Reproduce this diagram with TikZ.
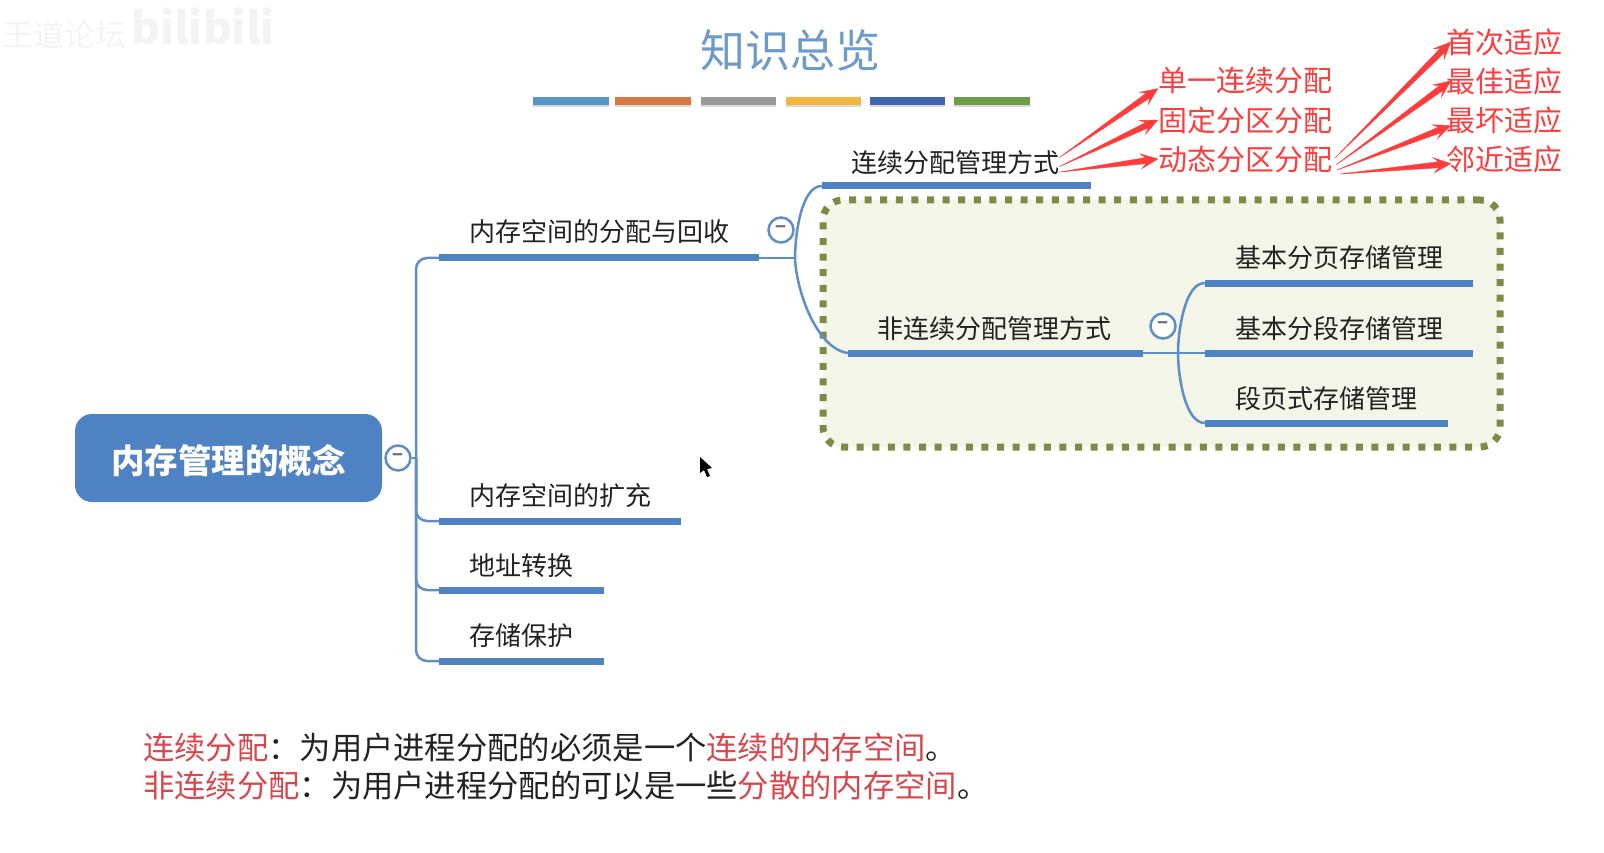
\documentclass[tikz,border=0pt]{standalone}
\usepackage{fontspec}
\usepackage{xcolor}
\setmainfont{Noto Sans CJK SC}
\usetikzlibrary{calc,shadows}

\definecolor{mapblue}{HTML}{4F82C3}
\definecolor{linkblue}{HTML}{5F8EC4}
\definecolor{titleblue}{HTML}{6C9ACB}
\definecolor{arrowred}{HTML}{FF3B3B}
\definecolor{noteRed}{HTML}{D8474B}
\definecolor{boxolive}{HTML}{7F8A46}
\definecolor{boxfill}{HTML}{F2F5E8}
\definecolor{inkblack}{HTML}{222222}
\definecolor{markgray}{HTML}{F3F3F3}

\tikzset{
  topicbar/.style={rectangle, fill=mapblue, minimum height=7pt, inner sep=0pt},
  topic/.style={anchor=west, inner sep=0pt, text=inkblack, font=\fontsize{26}{26}\selectfont},
  redtext/.style={inner sep=0pt, text=arrowred, font=\fontsize{29}{29}\selectfont},
  notetext/.style={anchor=west, inner sep=0pt, text=inkblack, font=\fontsize{31.3}{32}\selectfont},
  branch/.style={draw=linkblue, line width=2.5pt},
  folddot/.style={circle, draw=linkblue, line width=2.5pt, fill=white, inner sep=0pt,
    minimum size=25pt, text=black!55, font=\fontsize{18}{18}\bfseries\selectfont},
  % tapered arrow, thin at the tail
  redarrow/.style={fill=arrowred, draw=arrowred, line width=.4pt, to path={
    -- ($($(\tikztotarget)!12pt!(\tikztostart)$)!3pt!90:(\tikztotarget)$)
    -- ($($(\tikztotarget)!17pt!(\tikztostart)$)!7.5pt!90:(\tikztotarget)$)
    -- (\tikztotarget)
    -- ($($(\tikztotarget)!17pt!(\tikztostart)$)!7.5pt!-90:(\tikztotarget)$)
    -- ($($(\tikztotarget)!12pt!(\tikztostart)$)!3pt!-90:(\tikztotarget)$)
    -- cycle}}
}

\begin{document}
\begin{tikzpicture}[x=1pt, y=-1pt]
\useasboundingbox (0,0) rectangle (1604,853);

% ---- Heading ----
\node[inner sep=0pt, text=markgray, font=\fontsize{31}{31}\selectfont] (markA) at (64,35) {王道论坛};
\node[inner sep=0pt, text=markgray, font=\fontsize{44}{44}\bfseries\selectfont] (markB) at (203,27) {bilibili};
\node[inner sep=0pt, text=titleblue, font=\fontsize{45}{45}\selectfont] (title) at (790,50) {知识总览};

\foreach \name/\xc/\barw/\col in {b1/571/76/5797C8, b2/653/76/D97743, b3/738.5/75/9A9A9A,
                                  b4/823.5/75/F2B63E, b5/907.5/75/3F66AE, b6/992/76/6F9C46} {
  \definecolor{barcol}{HTML}{\col}
  \node[rectangle, fill=barcol, inner sep=0pt, minimum width=\barw pt, minimum height=8pt,
        drop shadow={opacity=.3, shadow xshift=0pt, shadow yshift=-2pt}] (\name) at (\xc,101) {};
}

% ---- Dotted group ----
\node[rectangle, rounded corners=20pt, draw=boxolive, fill=boxfill, line width=7pt,
      dash pattern=on 7pt off 8.6pt, minimum width=677pt, minimum height=247pt,
      inner sep=0pt] (group) at (1161.5,323.5) {};

% ---- Root ----
\node[rectangle, rounded corners=17pt, fill=mapblue, minimum width=307pt, minimum height=88pt,
      inner sep=0pt, text=white, text height=35pt, text depth=4pt,
      font=\fontsize{33.5}{34}\bfseries\selectfont] (root) at (228.5,458) {内存管理的概念};

% ---- Bars ----
\node[topicbar, minimum width=320pt] (allocbar)   at (599,258)    {};
\node[topicbar, minimum width=242pt] (extendbar)  at (560,521)    {};
\node[topicbar, minimum width=165pt] (addressbar) at (521.5,590)  {};
\node[topicbar, minimum width=165pt] (protectbar) at (521.5,661)  {};
\node[topicbar, minimum width=269pt] (contbar)    at (956.5,186)  {};
\node[topicbar, minimum width=295pt] (noncontbar) at (995.5,353)  {};
\node[topicbar, minimum width=268pt] (pagebar)    at (1339,283)   {};
\node[topicbar, minimum width=268pt] (segbar)     at (1339,353)   {};
\node[topicbar, minimum width=243pt] (mixbar)     at (1326.5,423) {};

% ---- Labels ----
\node[topic] (alloc)   at (469,232)  {内存空间的分配与回收};
\node[topic] (extend)  at (469,496)  {内存空间的扩充};
\node[topic] (address) at (469,566)  {地址转换};
\node[topic] (protect) at (469,636)  {存储保护};
\node[topic] (cont)    at (851,163)  {连续分配管理方式};
\node[topic] (noncont) at (877,329)  {非连续分配管理方式};
\node[topic] (page)    at (1235,258) {基本分页存储管理};
\node[topic] (seg)     at (1235,329) {基本分段存储管理};
\node[topic] (mix)     at (1235,399) {段页式存储管理};

% ---- Fold marks ----
\node[folddot] (rootdot)    at (398,458)  {−};
\node[folddot] (allocdot)   at (781,230)  {−};
\node[folddot] (noncontdot) at (1163,326) {−};

\coordinate (trunk) at (416,458);
\coordinate (forkA) at (795,258);
\coordinate (forkB) at (1178,353);

% ---- Branches ----
\draw[branch] (rootdot) -- (trunk);
\draw[branch, rounded corners=11pt] (trunk) |- (allocbar.west);
\draw[branch, rounded corners=11pt] (trunk) |- (extendbar.west);
\draw[branch, rounded corners=11pt] (trunk) |- (addressbar.west);
\draw[branch, rounded corners=11pt] (trunk) |- (protectbar.west);
\draw[branch] (allocbar.east) -- (forkA);
\draw[branch] (forkA) to[out=90, in=180, looseness=.7] (contbar.west);
\draw[branch] (forkA) to[out=-88, in=172, looseness=.75] (noncontbar.west);
\draw[branch] (noncontbar.east) -- (segbar.west);
\draw[branch] (forkB) to[out=90, in=180, looseness=.7] (pagebar.west);
\draw[branch] (forkB) to[out=-90, in=180, looseness=.7] (mixbar.west);

% ---- Red additions ----
\node[redtext] (single) at (1245,81)  {单一连续分配};
\node[redtext] (fixed)  at (1245,120) {固定分区分配};
\node[redtext] (dyn)    at (1245,159) {动态分区分配};
\node[redtext, inner xsep=-5pt] (first) at (1504,42)  {首次适应};
\node[redtext, inner xsep=-5pt] (best)  at (1504,81)  {最佳适应};
\node[redtext, inner xsep=-5pt] (worst) at (1504,120) {最坏适应};
\node[redtext, inner xsep=-5pt] (next)  at (1504,159) {邻近适应};

\coordinate (tailA) at (1335,158);
\coordinate (tailB) at (1336,165);
\coordinate (tailC) at (1337,170);
\coordinate (tailD) at (1340,174);

\draw[redarrow] (cont.3)  to (single.185);
\draw[redarrow] (cont.-2) to (fixed.west);
\draw[redarrow] (cont.-5) to (dyn.west);
\draw[redarrow] (tailA) to (first.west);
\draw[redarrow] (tailB) to (best.west);
\draw[redarrow] (tailC) to (worst.186);
\draw[redarrow] (tailD) to (next.185);

% ---- Pointer ----
\fill[black] (700,457) -- (700,473) -- (704,470) -- (707,477) -- (710,476) -- (707,469) -- (712,468) -- cycle;

% ---- Notes ----
\node[notetext] (noteA) at (143,748) {\textcolor{noteRed}{连续分配}：为用户进程分配的必须是一个\textcolor{noteRed}{连续的内存空间}。};
\node[notetext] (noteB) at (143,786) {\textcolor{noteRed}{非连续分配}：为用户进程分配的可以是一些\textcolor{noteRed}{分散的内存空间}。};
\end{tikzpicture}
\end{document}
